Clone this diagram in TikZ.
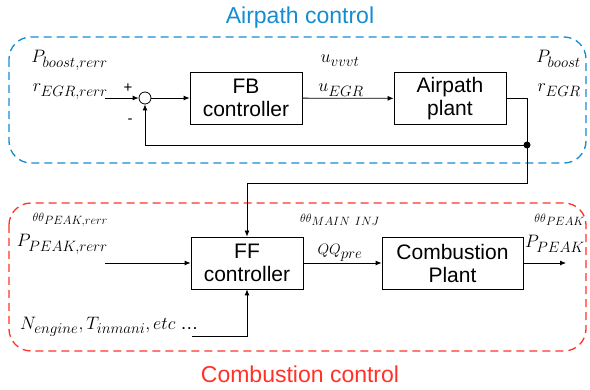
\RequirePackage{fix-cm}
\documentclass[tikz,border=0pt]{standalone}
\usepackage{fontspec}
\setmainfont{Liberation Sans}
\DeclareMathSizes{18}{18}{15}{12}
\usetikzlibrary{arrows.meta}
\definecolor{apblue}{RGB}{20,140,210}
\definecolor{cbred}{RGB}{255,50,40}
\begin{document}
\begin{tikzpicture}[x=1pt,y=-1pt,
  blk/.style={draw, line width=0.8pt, minimum width=112pt, minimum height=52pt, align=center, inner sep=0pt, font=\fontsize{21}{23}\selectfont},
  conn/.style={line width=0.8pt, -{Latex[length=6pt,width=5pt]}},
  wire/.style={line width=0.8pt},
  lbl/.style={inner sep=0pt, font=\fontsize{18}{20}\selectfont},
  title/.style={inner sep=0pt, font=\fontsize{23}{25}\selectfont},
  region/.style={line width=1.3pt, dash pattern=on 8pt off 5pt, rounded corners=22pt}]
\useasboundingbox (0,0) rectangle (590,390);

% regions
\draw[region, apblue] (9,37) rectangle (586,163);
\draw[region, cbred] (9,203) rectangle (586,351);
\node[title, text=apblue] (t1) at (300,18) {Airpath control};
\node[title, text=cbred] (t2) at (300,374) {Combustion control};

% upper loop
\node[blk] (fb) at (246,98) {FB\\controller};
\node[blk] (ap) at (450,98.5) {Airpath\\plant};
\node[draw, circle, line width=0.8pt, minimum size=12pt, inner sep=0pt] (sum) at (145,98) {};
\coordinate (in1) at (105,98);
\coordinate (jn) at (527,145);
\coordinate (down) at (527,183);
\coordinate (left) at (247,183);

\draw[conn] (in1) -- (sum);
\draw[conn] (sum) -- (fb);
\draw[conn] (fb) -- (ap);
\draw[wire] (ap.east) -| (jn);
\draw[conn] (jn) -| (sum.south);
\fill (jn) circle (3.5pt);

\node[lbl, anchor=base east] (l1) at (108,63) {$P_{boost,rerr}$};
\node[lbl, anchor=base east] (l2) at (108,92) {$r_{EGR,rerr}$};
\node[lbl, font=\fontsize{15}{17}\selectfont] (plus) at (128,88) {+};
\node[lbl, font=\fontsize{15}{17}\selectfont] (minus) at (130,121) {-};
\node[lbl, anchor=base] (l3) at (340,63) {$u_{vvvt}$};
\node[lbl, anchor=base] (l4) at (341,92) {$u_{EGR}$};
\node[lbl, anchor=base east] (l5) at (581,63) {$P_{boost}$};
\node[lbl, anchor=base east] (l6) at (581,92) {$r_{EGR}$};

% lower path
\node[blk] (ff) at (247,263) {FF\\controller};
\node[blk, minimum width=141pt] (cp) at (452.5,263) {Combustion\\Plant};
\coordinate (in2) at (105,263);
\coordinate (out2) at (566,263);
\coordinate (in3) at (192,336);

\draw[wire] (jn) -- (down) -- (left);
\draw[conn] (left) -- (ff.north);
\draw[conn] (in2) -- (ff.west |- in2);
\draw[conn] (ff) -- (cp);
\draw[conn] (cp.east) -- (out2);
\draw[conn] (in3) -| (ff.south);

\node[lbl, anchor=base east] (l7) at (108,222) {${\scriptscriptstyle\theta\theta}_{\scriptscriptstyle PEAK,rerr}$};
\node[lbl, anchor=base east] (l8) at (108,247) {$P_{PEAK,rerr}$};
\node[lbl, anchor=base] (l9) at (340,223) {${\scriptscriptstyle\theta\theta}_{\scriptscriptstyle MAIN\ INJ}$};
\node[lbl, anchor=base] (l10) at (340,255) {${\scriptstyle QQ}_{pre}$};
\node[lbl, anchor=base east] (l11) at (585,223) {${\scriptscriptstyle\theta\theta}_{\scriptscriptstyle PEAK}$};
\node[lbl, anchor=base east] (l12) at (585,248) {$P_{PEAK}$};
\node[lbl, anchor=base west] (l13) at (20,330) {$N_{engine},T_{inmani},etc$ \ldots};
\end{tikzpicture}
\end{document}
